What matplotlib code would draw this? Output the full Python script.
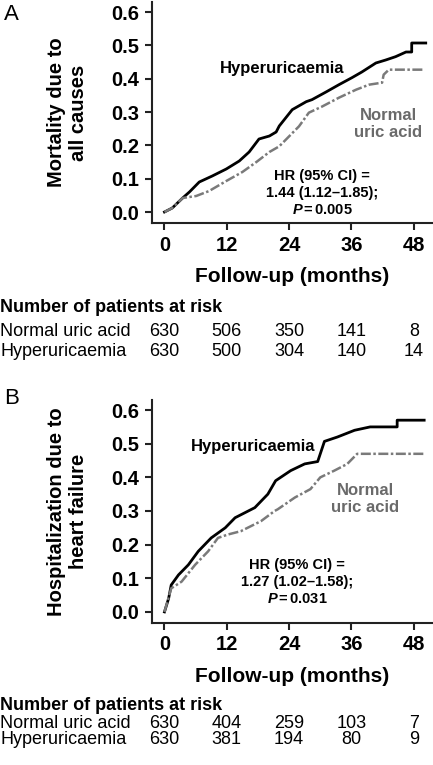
import matplotlib
matplotlib.use("Agg")
import matplotlib.pyplot as plt
import matplotlib.transforms as mtransforms

plt.rcParams['font.family'] = ['Liberation Sans', 'DejaVu Sans']
plt.rcParams['mathtext.fontset'] = 'custom'
plt.rcParams['mathtext.it'] = 'Liberation Sans:italic:bold'
plt.rcParams['mathtext.rm'] = 'Liberation Sans:bold'

# panel A : mortalité toutes causes (mois, proportion cumulée)
a_hyper_t = [0, 1.5, 3.5, 4.8, 6.7, 9.2, 11.9, 14.4, 16.3, 18.2, 20.2, 21.5, 22.1, 24.6,
             27.3, 28.4, 31.1, 33.6, 36.1, 38.0, 40.7, 42.6, 44.5, 46.5, 47.6, 47.6, 50.3]
a_hyper_y = [0, 0.012, 0.042, 0.06, 0.09, 0.108, 0.129, 0.153, 0.18, 0.219, 0.228, 0.24, 0.258, 0.307,
             0.331, 0.337, 0.36, 0.382, 0.403, 0.42, 0.447, 0.456, 0.466, 0.48, 0.48, 0.507, 0.507]
a_norm_t = [0, 1.5, 3.5, 6.1, 8.6, 11.9, 15.0, 17.7, 20.2, 22.1, 24.0, 25.9, 27.8, 30.3,
            33.6, 36.9, 39.4, 41.9, 42.2, 43.2, 49.9]
a_norm_y = [0, 0.012, 0.042, 0.048, 0.063, 0.093, 0.12, 0.15, 0.18, 0.197, 0.227, 0.257, 0.298, 0.316,
            0.343, 0.367, 0.382, 0.388, 0.412, 0.427, 0.427]

# panel B : hospitalisation pour insuffisance cardiaque
b_hyper_t = [0, 0.8, 1.3, 2.7, 4.6, 6.5, 9.0, 11.7, 13.6, 17.4, 19.9, 21.4, 24.3, 27.0, 29.5,
             30.8, 33.3, 36.6, 39.6, 44.8, 44.8, 50.0]
b_hyper_y = [0, 0.04, 0.08, 0.11, 0.14, 0.18, 0.22, 0.25, 0.28, 0.31, 0.35, 0.39, 0.42, 0.44, 0.447,
             0.507, 0.52, 0.54, 0.55, 0.55, 0.57, 0.57]
b_norm_t = [0, 1.3, 3.3, 5.9, 8.4, 10.3, 12.2, 14.7, 18.6, 21.2, 21.8, 25.1, 28.1, 30.0, 32.7,
            35.2, 37.1, 50.0]
b_norm_y = [0, 0.07, 0.09, 0.14, 0.18, 0.22, 0.23, 0.24, 0.27, 0.30, 0.305, 0.34, 0.365, 0.40, 0.42,
            0.44, 0.47, 0.47]

x_ticks = [0, 12, 24, 36, 48]
y_ticks = [0.0, 0.1, 0.2, 0.3, 0.4, 0.5, 0.6]
risk_rows = ['Normal uric acid', 'Hyperuricaemia']
a_risk_norm = [630, 506, 350, 141, 8]
a_risk_hyper = [630, 500, 304, 140, 14]
b_risk_norm = [630, 404, 259, 103, 7]
b_risk_hyper = [630, 381, 194, 80, 9]

W, H = 433, 765
fig = plt.figure(figsize=(W / 100, H / 100), dpi=100)

def fx(px):
    return px / W

def fy(py):
    return 1 - py / H

gray = '#7a7a7a'


def panel(top, bottom, ht, hy, nt, ny, ylab, letter, letter_y, hyper_xy, norm_xy, hr_xy, hr_text,
          risk_n, risk_h, risk_y):
    ax = fig.add_axes([fx(152), fy(bottom), fx(433 - 152), (bottom - top) / H])
    ax.plot(ht, hy, color='black', lw=2.0)
    ax.plot(nt, ny, color=gray, lw=1.8, ls=(0, (4, 1, 1, 1)))
    ax.set_xlim(-2.4, 51.7)
    ax.set_ylim(-0.033, 0.63)
    ax.set_xticks(x_ticks)
    ax.set_yticks(y_ticks)
    ax.set_yticklabels(['%.1f' % v for v in y_ticks])
    for s in ['top', 'right']:
        ax.spines[s].set_visible(False)
    for s in ['left', 'bottom']:
        ax.spines[s].set_linewidth(1.5)
        ax.spines[s].set_color('#222222')
    ax.tick_params(length=5, width=1.5, color='#222222', labelsize=14.5, pad=4)
    for lab in ax.get_xticklabels() + ax.get_yticklabels():
        lab.set_fontweight('bold')
    ax.set_xlabel('Follow-up (months)', fontsize=15, fontweight='bold', labelpad=9)
    fig.text(fx(68), fy((top + bottom) / 2), ylab, rotation=90, ha='center', va='center',
             fontsize=14.5, fontweight='bold', multialignment='center', linespacing=1.2)
    fig.text(fx(4), fy(letter_y), letter, fontsize=16, ha='left', va='center')

    fig.text(hyper_xy[0], hyper_xy[1], 'Hyperuricaemia',
             fontsize=12, fontweight='bold', ha='center', va='center')
    fig.text(norm_xy[0], norm_xy[1], 'Normal\nuric acid',
             fontsize=12, fontweight='bold', ha='center', va='center', color='#6a6a6a',
             linespacing=1.15)
    fig.text(hr_xy[0], hr_xy[1], hr_text,
             fontsize=10.5, fontweight='bold', ha='center', va='center', linespacing=1.3)

    # tableau des patients à risque
    fig.text(0.0, fy(risk_y[0]), 'Number of patients at risk', fontsize=13, fontweight='bold',
             va='center')
    trans = mtransforms.blended_transform_factory(ax.transData, fig.transFigure)
    for row, vals, yy in zip(risk_rows, [risk_n, risk_h], risk_y[1:]):
        fig.text(0.0, fy(yy), row, fontsize=13, va='center')
        for t, v in zip(x_ticks, vals):
            fig.text(t, fy(yy), str(v), fontsize=13, va='center', ha='center', transform=trans)
    return ax


panel(2, 223, a_hyper_t, a_hyper_y, a_norm_t, a_norm_y, 'Mortality due to\nall causes', 'A', 14,
      (fx(282), fy(68)), (fx(388), fy(124)), (fx(322), fy(193)),
      'HR (95% CI) =\n1.44 (1.12\u20131.85);\n$P$$\\,$=$\\,$0.005',
      a_risk_norm, a_risk_hyper, [308, 331, 352])

panel(400, 623, b_hyper_t, b_hyper_y, b_norm_t, b_norm_y, 'Hospitalization due to\nheart failure', 'B', 399,
      (fx(253), fy(447)), (fx(365), fy(499)), (fx(297), fy(582)),
      'HR (95% CI) =\n1.27 (1.02\u20131.58);\n$P$$\\,$=$\\,$0.031',
      b_risk_norm, b_risk_hyper, [705, 723, 740])

fig.savefig('out.png', dpi=100)
